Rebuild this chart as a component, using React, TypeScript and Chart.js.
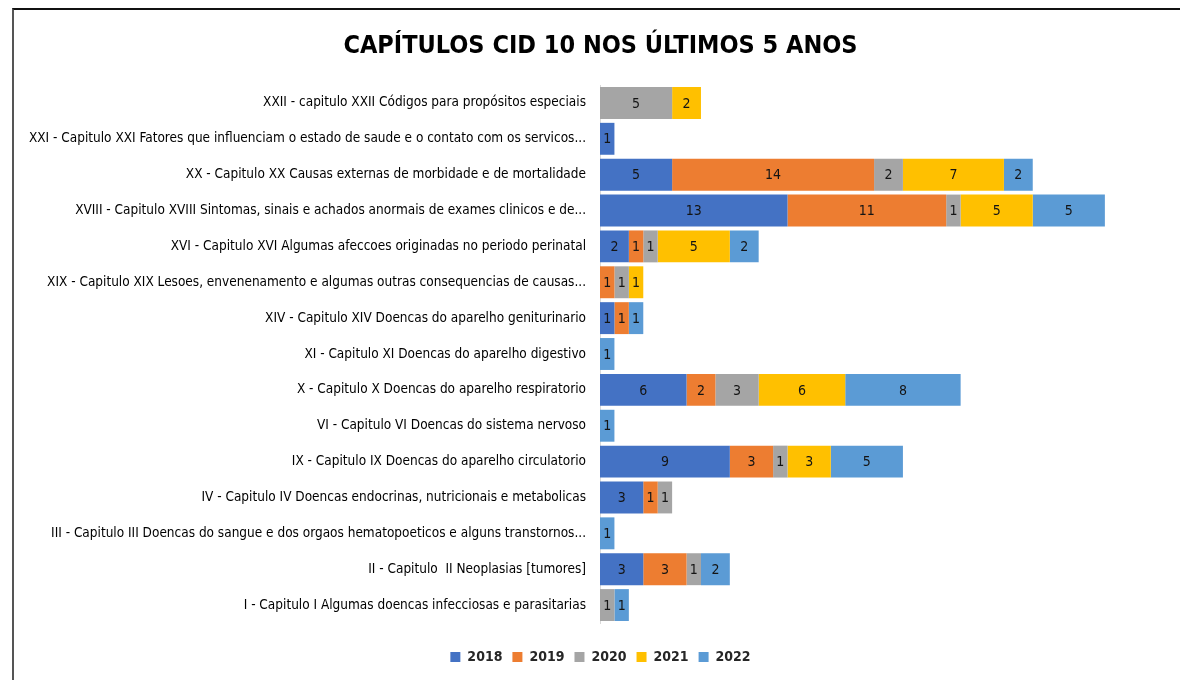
import React, { useEffect, useRef } from "react";
import { Chart, registerables } from "chart.js";

Chart.register(...registerables);

const TITLE = "CAPÍTULOS CID 10 NOS ÚLTIMOS 5 ANOS";

const categories = [
  "XXII - capitulo XXII Códigos para propósitos especiais",
  "XXI - Capitulo XXI Fatores que influenciam o estado de saude e o contato com os servicos...",
  "XX - Capitulo XX Causas externas de morbidade e de mortalidade",
  "XVIII - Capitulo XVIII Sintomas, sinais e achados anormais de exames clinicos e de...",
  "XVI - Capitulo XVI Algumas afeccoes originadas no periodo perinatal",
  "XIX - Capitulo XIX Lesoes, envenenamento e algumas outras consequencias de causas...",
  "XIV - Capitulo XIV Doencas do aparelho geniturinario",
  "XI - Capitulo XI Doencas do aparelho digestivo",
  "X - Capitulo X Doencas do aparelho respiratorio",
  "VI - Capitulo VI Doencas do sistema nervoso",
  "IX - Capitulo IX Doencas do aparelho circulatorio",
  "IV - Capitulo IV Doencas endocrinas, nutricionais e metabolicas",
  "III - Capitulo III Doencas do sangue e dos orgaos hematopoeticos e alguns transtornos...",
  "II - Capitulo  II Neoplasias [tumores]",
  "I - Capitulo I Algumas doencas infecciosas e parasitarias",
];

const seriesNames = ["2018", "2019", "2020", "2021", "2022"];

const values2018 = [0, 1, 5, 13, 2, 0, 1, 0, 6, 0, 9, 3, 0, 3, 0];
const values2019 = [0, 0, 14, 11, 1, 1, 1, 0, 2, 0, 3, 1, 0, 3, 0];
const values2020 = [5, 0, 2, 1, 1, 1, 0, 0, 3, 0, 1, 1, 0, 1, 1];
const values2021 = [2, 0, 7, 5, 5, 1, 0, 0, 6, 0, 3, 0, 0, 0, 0];
const values2022 = [0, 0, 2, 5, 2, 0, 1, 1, 8, 1, 5, 0, 1, 2, 1];

const seriesColors = ["#4472C4", "#ED7D31", "#A5A5A5", "#FFC000", "#5B9BD5"];

const FONT = "'Liberation Sans Narrow', 'DejaVu Sans Condensed', 'Roboto Condensed', sans-serif";

const valueLabels = {
  id: "valueLabels",
  afterDatasetsDraw(chart: any) {
    const ctx = chart.ctx;
    ctx.save();
    ctx.font = `14px ${FONT}`;
    ctx.fillStyle = "#141414";
    ctx.textAlign = "center";
    ctx.textBaseline = "middle";
    chart.data.datasets.forEach((ds: any, di: number) => {
      const meta = chart.getDatasetMeta(di);
      if (meta.hidden) return;
      meta.data.forEach((el: any, i: number) => {
        const v = ds.data[i];
        if (!v) return;
        const p = el.getProps(["x", "y", "base"], true);
        ctx.fillText(String(v), (p.x + p.base) / 2, p.y + 1);
      });
    });
    ctx.restore();
  },
};

export default function App() {
  const ref = useRef<HTMLCanvasElement | null>(null);

  useEffect(() => {
    if (!ref.current) return;
    const all = [values2018, values2019, values2020, values2021, values2022];
    const chart = new Chart(ref.current, {
      type: "bar",
      data: {
        labels: categories,
        datasets: seriesNames.map((name, i) => ({
          label: name,
          data: all[i],
          backgroundColor: seriesColors[i],
          borderWidth: 0,
          categoryPercentage: 1,
          barPercentage: 0.89,
        })),
      },
      options: {
        indexAxis: "y",
        responsive: false,
        animation: false,
        devicePixelRatio: 1,
        layout: { padding: { left: 24, right: 3, top: 0, bottom: 6 } },
        plugins: {
          title: {
            display: true,
            text: TITLE,
            color: "#000",
            font: { family: FONT, size: 25, weight: "bold" },
            padding: { top: 31, bottom: 24 },
          },
          legend: {
            position: "bottom",
            labels: {
              boxWidth: 10,
              boxHeight: 10,
              padding: 10,
              color: "#262626",
              font: { family: FONT, size: 14, weight: "bold" },
            },
          },
          tooltip: { enabled: false },
        },
        scales: {
          x: {
            stacked: true,
            min: 0,
            max: 40,
            grid: { display: false },
            border: { display: false },
            ticks: { display: false },
            afterFit: (s: any) => {
              s.height = 17;
            },
          },
          y: {
            stacked: true,
            grid: { display: false, drawTicks: false },
            border: { display: true, color: "#d9d9d9" },
            ticks: {
              color: "#000",
              padding: 14,
              autoSkip: false,
              font: { family: FONT, size: 13.5 },
            },
            afterFit: (s: any) => {
              s.width = 576;
            },
          },
        },
      },
      plugins: [valueLabels],
    });
    return () => chart.destroy();
  }, []);

  return (
    <div style={{ position: "fixed", left: 0, top: 0, width: 1180, height: 680, background: "#fff" }}>
      <canvas ref={ref} width={1180} height={680} style={{ display: "block", width: 1180, height: 680 }} />
      <div
        style={{
          position: "absolute",
          left: 12,
          top: 8,
          right: 0,
          bottom: 0,
          borderTop: "2px solid #111",
          borderLeft: "2px solid #555",
          pointerEvents: "none",
        }}
      />
    </div>
  );
}
